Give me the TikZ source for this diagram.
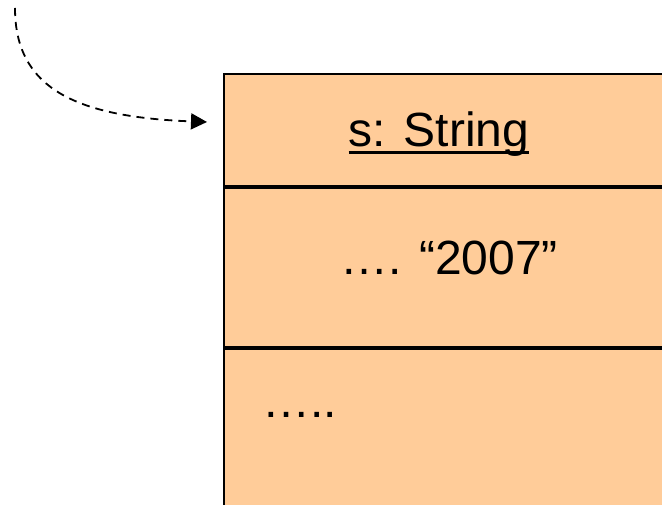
\documentclass[tikz,border=0pt]{standalone}
\usepackage{fontspec}
\setmainfont{Liberation Sans}
\usetikzlibrary{arrows.meta}
\definecolor{objfill}{HTML}{FFCC99}
\begin{document}
\begin{tikzpicture}[x=1pt,y=1pt,
  compartment/.style={draw=black, fill=objfill, line width=2pt, rectangle,
    anchor=north west, minimum width=480pt, inner sep=0pt},
  label/.style={inner sep=0pt, font=\fontsize{48}{56}\selectfont},
  ref/.style={dashed, dash pattern=on 8pt off 6pt, line width=1.8pt,
    -{Triangle[length=16pt,width=16pt]}}]
  \useasboundingbox (0,0) rectangle (662,504);
  \clip (0,0) rectangle (662,504);
  % object box: name, attribute and operation compartments
  \node[compartment, minimum height=112pt] (head) at (222.5,430.5) {};
  \node[compartment, minimum height=159pt] (attr) at (head.south west) {};
  \node[compartment, minimum height=180pt] (ops) at (attr.south west) {};
  % compartment texts
  \node[label, anchor=base] (name) at (439,357) {s: String};
  \draw[line width=2.6pt] ([yshift=-5.8pt]name.base west) -- ([yshift=-5.8pt]name.base east);
  \node[label, anchor=base] (val) at (449,229) {…. “2007”};
  \node[label, anchor=base west] (more) at (262,86) {…..};
  % incoming reference
  \coordinate (src) at (15,496);
  \coordinate (tip) at (207,382);
  \draw[ref] (src) .. controls (15,416) and (75,387) .. (tip);
\end{tikzpicture}
\end{document}
